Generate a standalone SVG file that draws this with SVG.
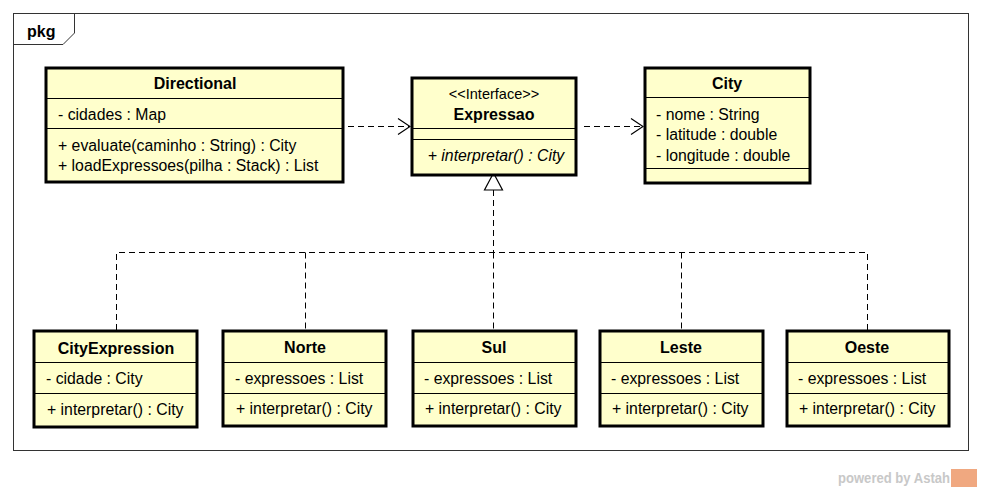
<svg xmlns="http://www.w3.org/2000/svg" width="982" height="490" viewBox="0 0 982 490">
<defs>
<style>
text{font-family:"Liberation Sans",Arial,sans-serif;font-size:15.8px;fill:#000}
.t{font-weight:bold;text-anchor:middle;font-size:16px}
.c{text-anchor:middle}
.box{fill:#FFFFCC;stroke:#000;stroke-width:3}
.sep{stroke:#000;stroke-width:1}
.dash{fill:none;stroke:#000;stroke-width:1;stroke-dasharray:6 4}
</style>
<marker id="open" viewBox="0 0 14 18" refX="13" refY="9" markerWidth="14" markerHeight="18" markerUnits="userSpaceOnUse" orient="auto">
<path d="M1,1 L13,9 L1,17" fill="none" stroke="#000" stroke-width="1.2"/>
</marker>
</defs>
<rect width="982" height="490" fill="#fff"/>
<g id="frame">
<rect x="13.5" y="13.5" width="955" height="437" fill="none" stroke="#333" stroke-width="1"/>
<path d="M13.5,44.5 H63 L74.5,33 V13.5" fill="none" stroke="#333" stroke-width="1"/>
<text x="27" y="37" style="font-weight:bold;font-size:16px">pkg</text>
</g>
<g id="connectors">
<line class="dash" x1="348" y1="126.5" x2="410" y2="126.5" marker-end="url(#open)"/>
<line class="dash" x1="584" y1="126.5" x2="643" y2="126.5" marker-end="url(#open)"/>
<path class="dash" d="M493.5,190 V252.5 M116.5,330 V252.5 H867.5 V330 M305.5,252.5 V330 M493.5,252.5 V330 M681.5,252.5 V330"/>
<polygon points="493.5,173 484.5,190 502.5,190" fill="#fff" stroke="#000" stroke-width="1.2"/>
</g>
<g id="Directional">
<rect class="box" x="46" y="68" width="297" height="114"/>
<line class="sep" x1="46" y1="98.5" x2="343" y2="98.5"/>
<line class="sep" x1="46" y1="128.5" x2="343" y2="128.5"/>
<text class="t" x="195" y="89">Directional</text>
<text x="58" y="120">- cidades : Map</text>
<text x="58" y="151">+ evaluate(caminho : String) : City</text>
<text x="58" y="171">+ loadExpressoes(pilha : Stack) : List</text>
</g>
<g id="Expressao">
<rect class="box" x="412" y="78" width="164" height="97"/>
<line class="sep" x1="412" y1="128.5" x2="576" y2="128.5"/>
<line class="sep" x1="412" y1="139.5" x2="576" y2="139.5"/>
<text class="c" x="494" y="99" style="font-size:14.5px">&lt;&lt;Interface&gt;&gt;</text>
<text class="t" x="494" y="120">Expressao</text>
<text class="c" x="496" y="161" style="font-style:italic">+ interpretar() : City</text>
</g>
<g id="City">
<rect class="box" x="645" y="68" width="165" height="115"/>
<line class="sep" x1="645" y1="97.5" x2="810" y2="97.5"/>
<line class="sep" x1="645" y1="168.5" x2="810" y2="168.5"/>
<text class="t" x="727" y="89">City</text>
<text x="656" y="120">- nome : String</text>
<text x="656" y="140">- latitude : double</text>
<text x="656" y="161">- longitude : double</text>
</g>
<g id="CityExpression">
<rect class="box" x="34" y="331" width="163" height="96"/>
<line class="sep" x1="34" y1="362.5" x2="197" y2="362.5"/>
<line class="sep" x1="34" y1="393.5" x2="197" y2="393.5"/>
<text class="t" x="116" y="354">CityExpression</text>
<text x="46" y="384">- cidade : City</text>
<text x="47" y="415">+ interpretar() : City</text>
</g>
<g id="Norte">
<rect class="box" x="223" y="331" width="163" height="95"/>
<line class="sep" x1="223" y1="362.5" x2="386" y2="362.5"/>
<line class="sep" x1="223" y1="393.5" x2="386" y2="393.5"/>
<text class="t" x="305" y="353">Norte</text>
<text x="235" y="384">- expressoes : List</text>
<text x="236" y="414">+ interpretar() : City</text>
</g>
<g id="Sul">
<rect class="box" x="413" y="331" width="163" height="95"/>
<line class="sep" x1="413" y1="362.5" x2="576" y2="362.5"/>
<line class="sep" x1="413" y1="393.5" x2="576" y2="393.5"/>
<text class="t" x="494" y="353">Sul</text>
<text x="424" y="384">- expressoes : List</text>
<text x="425" y="414">+ interpretar() : City</text>
</g>
<g id="Leste">
<rect class="box" x="600" y="331" width="163" height="95"/>
<line class="sep" x1="600" y1="362.5" x2="763" y2="362.5"/>
<line class="sep" x1="600" y1="393.5" x2="763" y2="393.5"/>
<text class="t" x="681" y="353">Leste</text>
<text x="611" y="384">- expressoes : List</text>
<text x="612" y="414">+ interpretar() : City</text>
</g>
<g id="Oeste">
<rect class="box" x="787" y="331" width="162" height="95"/>
<line class="sep" x1="787" y1="362.5" x2="949" y2="362.5"/>
<line class="sep" x1="787" y1="393.5" x2="949" y2="393.5"/>
<text class="t" x="867" y="353">Oeste</text>
<text x="798" y="384">- expressoes : List</text>
<text x="799" y="414">+ interpretar() : City</text>
</g>
<g id="watermark">
<text x="838" y="483" textLength="112" lengthAdjust="spacingAndGlyphs" style="font-weight:bold;font-size:14px;fill:#c8c8c8">powered by Astah</text>
<rect x="951" y="469" width="26" height="18" fill="#f0a880"/>
</g>
</svg>
